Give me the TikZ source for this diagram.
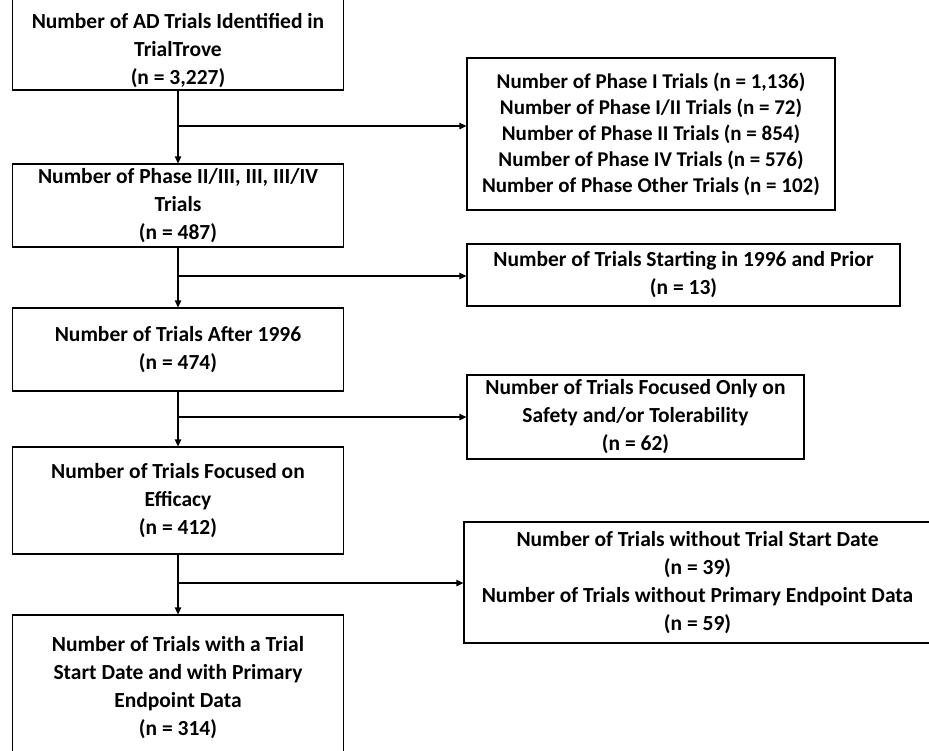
\documentclass[tikz,border=0pt]{standalone}
\usepackage{fontspec}
\setmainfont{Carlito}
\usetikzlibrary{arrows.meta}
\begin{document}
\begin{tikzpicture}[x=1pt,y=-1pt,
  box/.style={draw=black, line width=1.3pt, inner sep=0pt, align=center,
    font=\bfseries\fontsize{21.5}{28}\selectfont, text=black},
  boxtext/.style={inner sep=0pt, align=center,
    font=\bfseries\fontsize{21.5}{28}\selectfont, text=black},
  flow/.style={line width=1.3pt, -{Triangle[length=7pt,width=6.5pt]}}]
\useasboundingbox (0,0) rectangle (929,750);
\node[box, minimum width=331, minimum height=106] (b1) at (178,37) {};
\node[boxtext] (t1) at (178,51)
  {Number of AD Trials Identified in\\TrialTrove\\(n = 3,227)};
\node[box, minimum width=331, minimum height=83] (b2) at (178,205.5)
  {Number of Phase II/III, III, III/IV\\Trials\\(n = 487)};
\node[box, minimum width=331, minimum height=83] (b3) at (178,349.5)
  {Number of Trials After 1996\\(n = 474)};
\node[box, minimum width=331, minimum height=107] (b4) at (178,500.5)
  {Number of Trials Focused on\\Efficacy\\(n = 412)};
\node[box, minimum width=331, minimum height=146] (b5) at (178,688)
  {Number of Trials with a Trial\\Start Date and with Primary\\Endpoint Data\\(n = 314)};
\node[box, minimum width=368, minimum height=152, font=\bfseries\fontsize{21}{26}\selectfont] (r1) at (651,134)
  {Number of Phase I Trials (n = 1,136)\\Number of Phase I/II Trials (n = 72)\\Number of Phase II Trials (n = 854)\\Number of Phase IV Trials (n = 576)\\Number of Phase Other Trials (n = 102)};
\node[box, minimum width=433, minimum height=62] (r2) at (683.5,275)
  {Number of Trials Starting in 1996 and Prior\\(n = 13)};
\node[box, minimum width=337, minimum height=84] (r3) at (635.5,417)
  {Number of Trials Focused Only on\\Safety and/or Tolerability\\(n = 62)};
\node[box, minimum width=467, minimum height=121] (r4) at (697.5,582.5)
  {Number of Trials without Trial Start Date\\(n = 39)\\Number of Trials without Primary Endpoint Data\\(n = 59)};
\coordinate (j1) at (178,126);
\coordinate (j2) at (178,276);
\coordinate (j3) at (178,417);
\coordinate (j4) at (178,583);
\draw[flow] (b1) -- (b2);
\draw[flow] (b2) -- (b3);
\draw[flow] (b3) -- (b4);
\draw[flow] (b4) -- (b5);
\draw[flow] (j1) -- (j1 -| r1.west);
\draw[flow] (j2) -- (j2 -| r2.west);
\draw[flow] (j3) -- (j3 -| r3.west);
\draw[flow] (j4) -- (j4 -| r4.west);
\end{tikzpicture}
\end{document}
